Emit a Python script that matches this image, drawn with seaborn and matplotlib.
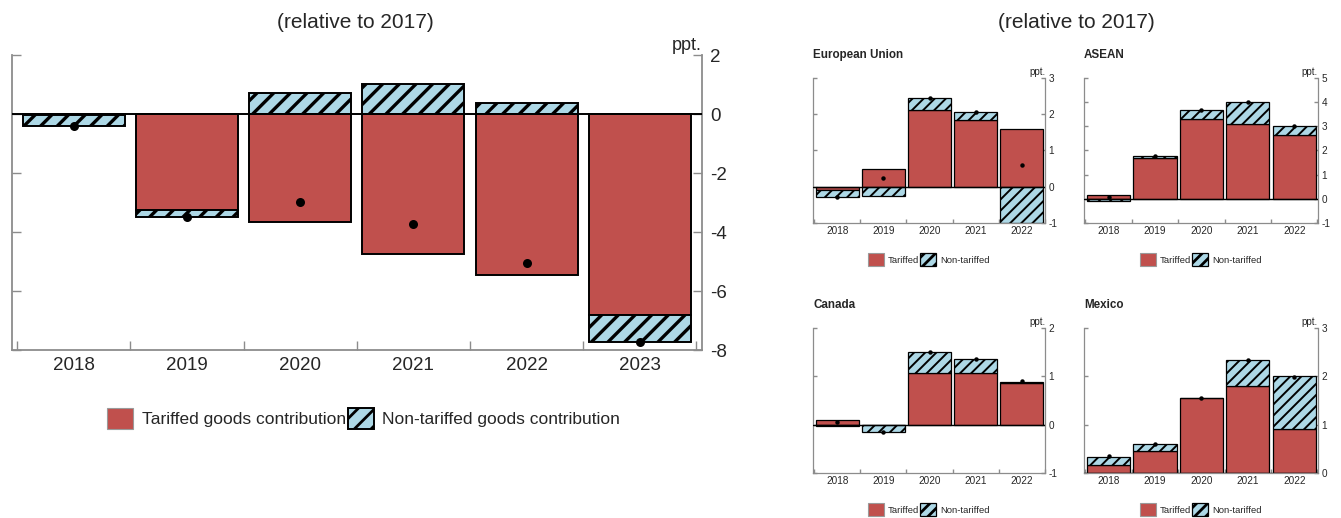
import matplotlib

matplotlib.use("Agg")

import matplotlib.pyplot as plt  # noqa: E402
import numpy as np  # noqa: E402
import seaborn as sns  # noqa: E402

# --- data (ppt., relative to 2017) ---
YEARS_MAIN = ["2018", "2019", "2020", "2021", "2022", "2023"]
MAIN_TARIFFED = [-0.03, -3.25, -3.67, -4.74, -5.46, -6.82]
MAIN_NON_TARIFFED = [-0.36, -0.25, 0.71, 1.02, 0.39, -0.92]
MAIN_TOTAL = [-0.40, -3.50, -2.97, -3.72, -5.06, -7.74]

YEARS_REGION = ["2018", "2019", "2020", "2021", "2022"]
EU_TARIFFED = [-0.09, 0.49, 2.12, 1.85, 1.59]
EU_NON_TARIFFED = [-0.21, -0.26, 0.32, 0.21, -1.00]
EU_TOTAL = [-0.30, 0.24, 2.44, 2.06, 0.61]
ASEAN_TARIFFED = [0.17, 1.68, 3.31, 3.10, 2.66]
ASEAN_NON_TARIFFED = [-0.11, 0.10, 0.37, 0.91, 0.34]
ASEAN_TOTAL = [0.07, 1.78, 3.68, 4.01, 3.02]
CANADA_TARIFFED = [0.09, -0.02, 1.06, 1.06, 0.86]
CANADA_NON_TARIFFED = [-0.03, -0.14, 0.44, 0.29, 0.03]
CANADA_TOTAL = [0.05, -0.16, 1.50, 1.35, 0.91]
MEXICO_TARIFFED = [0.15, 0.44, 1.54, 1.80, 0.91]
MEXICO_NON_TARIFFED = [0.18, 0.16, 0.02, 0.54, 1.09]
MEXICO_TOTAL = [0.35, 0.60, 1.56, 2.34, 1.98]

_RED = "#c0504d"
_BLUE = "#add8e6"
_SPINE = "#8c8c8c"

sns.set_theme(style="white")
plt.rcParams["font.family"] = ["Liberation Sans", "DejaVu Sans"]
plt.rcParams["axes.unicode_minus"] = False
plt.rcParams["hatch.linewidth"] = 2.0


def _draw_panel(ax, years, tariffed, non_tariffed, totals, labels, big):
    t = np.asarray(tariffed, dtype=float)
    n = np.asarray(non_tariffed, dtype=float)
    # non-tariffed stacks on the tariffed bar when they share a sign
    n_bottom = np.where(np.sign(n) == np.sign(t), t, 0.0)
    width = 0.9 if big else 0.93
    bar_lw = 1.4 if big else 0.9
    sns.barplot(x=years, y=t, color=_RED, saturation=1, width=width,
                edgecolor="black", linewidth=bar_lw, errorbar=None,
                label=labels[0], zorder=2, ax=ax)
    sns.barplot(x=years, y=n, bottom=n_bottom, color=_BLUE, saturation=1,
                width=width, edgecolor="black", linewidth=bar_lw,
                hatch="//" if big else "///", errorbar=None,
                label=labels[1], zorder=2, ax=ax)
    hlw = 2.4 if big else 1.4
    for p in ax.patches:
        if p.get_hatch() and hasattr(p, "set_hatch_linewidth"):
            p.set_hatch_linewidth(hlw)
    sns.stripplot(x=years, y=totals, jitter=False, color="black",
                  size=6.5 if big else 3.2, linewidth=0, zorder=5, ax=ax)
    ax.axhline(0, color="black", lw=1.4 if big else 1.0, zorder=3)

    k = len(years)
    if big:
        ax.set_xlim(-0.55, k - 0.45)
    else:
        ax.set_xlim(-0.53, k - 0.49)
    ax.set_xticks(np.arange(k))
    ax.set_xticklabels(years)
    ax.set_xticks(np.arange(k + 1) - 0.5, minor=True)
    ax.set_xlabel("")
    ax.set_ylabel("")

    fs = 13.5 if big else 7.2
    tick_len = 6.5 if big else 3.0
    ax.tick_params(axis="x", which="major", length=0, labelsize=fs,
                   pad=5 if big else 2.5)
    ax.tick_params(axis="x", which="minor", bottom=True, direction="in",
                   length=tick_len, width=1.0, color=_SPINE)
    ax.tick_params(axis="y", which="major", left=True, right=True,
                   labelleft=False, labelright=True, direction="in",
                   length=tick_len, width=1.0, color=_SPINE, labelsize=fs,
                   pad=6 if big else 2.5)
    ax.spines["top"].set_visible(False)
    for side in ("left", "right", "bottom"):
        ax.spines[side].set_visible(True)
        ax.spines[side].set_color(_SPINE)
        ax.spines[side].set_linewidth(1.3 if big else 0.9)
    ax.text(1.0, 1.005, "ppt.", transform=ax.transAxes, ha="right",
            va="bottom", fontsize=13 if big else 7)


def _soften_legend(leg):
    # the red legend square has a soft grey edge in the reference
    handles = getattr(leg, "legend_handles", None) or leg.legendHandles
    handles[0].set_edgecolor("#9a9a9a")
    handles[0].set_linewidth(0.8)


fig = plt.figure(figsize=(13.41, 5.18), dpi=100)

# main panel
ax_main = fig.add_axes([0.0087, 0.3243, 0.5148, 0.569])
_draw_panel(ax_main, YEARS_MAIN, MAIN_TARIFFED, MAIN_NON_TARIFFED, MAIN_TOTAL,
            ["Tariffed goods contribution", "Non-tariffed goods contribution"],
            big=True)
ax_main.set_ylim(-8, 2)
ax_main.set_yticks(np.arange(-8, 3, 2))
leg = ax_main.legend(loc="center", bbox_to_anchor=(0.51, -0.231), ncol=2,
                     frameon=False, fontsize=12.5, handlelength=1.5,
                     handleheight=1.5, handletextpad=0.5, columnspacing=0.1)
_soften_legend(leg)
fig.text(355 / 1341, 1 - 22 / 518, "(relative to 2017)", ha="center",
         va="center", fontsize=15)
fig.text(1076 / 1341, 1 - 22 / 518, "(relative to 2017)", ha="center",
         va="center", fontsize=15)

# regional panels
panels = [
    ("European Union", EU_TARIFFED, EU_NON_TARIFFED, EU_TOTAL, (-1, 3),
     [0.6063, 0.570, 0.173, 0.279]),
    ("ASEAN", ASEAN_TARIFFED, ASEAN_NON_TARIFFED, ASEAN_TOTAL, (-1, 5),
     [0.8083, 0.570, 0.1745, 0.279]),
    ("Canada", CANADA_TARIFFED, CANADA_NON_TARIFFED, CANADA_TOTAL, (-1, 2),
     [0.6063, 0.0875, 0.173, 0.279]),
    ("Mexico", MEXICO_TARIFFED, MEXICO_NON_TARIFFED, MEXICO_TOTAL, (0, 3),
     [0.8083, 0.0875, 0.1745, 0.279]),
]
for name, tar, non, tot, ylim, rect in panels:
    ax = fig.add_axes(rect)
    _draw_panel(ax, YEARS_REGION, tar, non, tot, ["Tariffed", "Non-tariffed"],
                big=False)
    ax.set_ylim(*ylim)
    ax.set_yticks(np.arange(ylim[0], ylim[1] + 1))
    ax.text(0.0, 1.16, name, transform=ax.transAxes, ha="left", va="center",
            fontsize=8.4, fontweight="bold")
    leg = ax.legend(loc="center", bbox_to_anchor=(0.5, -0.255), ncol=2,
                    frameon=False, fontsize=6.8, handlelength=1.7,
                    handleheight=1.7, handletextpad=0.4, columnspacing=0.1)
    _soften_legend(leg)

fig.savefig("out.png", dpi=100)
plt.close(fig)
